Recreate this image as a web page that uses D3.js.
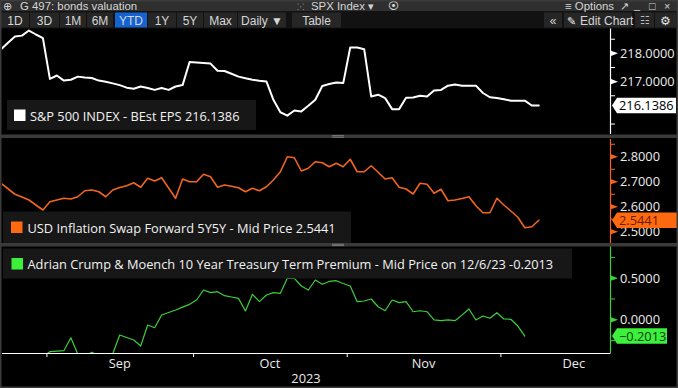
<!DOCTYPE html>
<html><head><meta charset="utf-8">
<script src="https://cdn.jsdelivr.net/npm/d3@7"></script>
<style>
body{margin:0;background:#000;}
svg{display:block;}
text{font-family:"Open Sans","Noto Sans",Arial,sans-serif;}
.tb text{font-family:"Liberation Sans",Arial,sans-serif;}
</style></head>
<body><svg id="c" width="678" height="388"></svg>
<script>
// ---------------- DATA ----------------
const startDate = new Date(2023,7,23), endDate = new Date(2023,11,8);
const spxEps = [218.13,218.36,218.58,218.61,218.79,218.65,218.52,217.08,217.20,217.02,
217.05,217.16,217.13,217.11,217.02,216.98,216.92,216.86,216.77,216.73,
216.81,216.76,216.69,216.76,216.69,216.81,216.86,217.68,217.66,217.64,
217.62,217.37,217.36,217.26,217.16,217.10,217.05,217.01,216.99,216.34,
215.90,215.78,215.96,215.93,216.13,216.34,216.83,216.90,216.95,216.93,
218.19,218.19,218.13,216.46,216.52,216.40,216.01,216.01,216.41,216.42,
216.48,216.46,216.67,216.69,216.84,216.88,216.84,216.84,216.84,216.58,
216.43,216.40,216.36,216.31,216.31,216.31,216.14,216.1386];
const inflSwap = [2.692,2.670,2.648,2.637,2.625,2.605,2.585,2.618,2.625,2.632,
2.629,2.638,2.662,2.665,2.658,2.638,2.665,2.675,2.682,2.694,
2.676,2.712,2.701,2.714,2.673,2.632,2.709,2.698,2.698,2.728,
2.718,2.676,2.685,2.680,2.674,2.658,2.672,2.662,2.678,2.705,
2.738,2.798,2.794,2.741,2.752,2.778,2.774,2.758,2.772,2.758,
2.788,2.738,2.738,2.762,2.736,2.709,2.714,2.676,2.669,2.649,
2.692,2.688,2.652,2.668,2.622,2.625,2.631,2.638,2.602,2.574,
2.574,2.632,2.605,2.581,2.556,2.514,2.518,2.5441];
const termPremium = [-0.52,-0.55,-0.50,-0.53,-0.48,-0.51,-0.45,-0.389,-0.383,-0.377,
-0.221,-0.42,-0.45,-0.395,-0.44,-0.45,-0.415,-0.189,-0.219,-0.249,
-0.321,-0.069,-0.101,0.052,0.082,0.112,0.146,0.180,0.232,0.352,
0.320,0.332,0.284,0.268,0.252,0.100,0.300,0.212,0.292,0.320,
0.312,0.493,0.493,0.400,0.352,0.472,0.421,0.455,0.464,0.430,
0.400,0.212,0.220,0.244,0.151,0.103,0.232,0.200,0.212,0.091,
0.103,0.091,-0.008,-0.017,-0.008,-0.017,0.050,0.124,-0.008,0.040,
0.012,0.079,0.004,0.000,-0.081,-0.2013,null,null];
const monthLabels = ["Sep","Oct","Nov","Dec"];
const yearLabel = "2023";
const epsMajor = [218,217], epsMinor = [218.5,217.5,216.5,215.5];
const swapMajor = [2.8,2.7,2.6,2.5], swapMinor = [2.85,2.75,2.65,2.55];
const tpMajor = [0.5,0.0], tpMinor = [0.75,0.25,-0.25];
const legendTexts = ["S&P 500 INDEX - BEst EPS 216.1386",
 "USD Inflation Swap Forward 5Y5Y - Mid Price 2.5441",
 "Adrian Crump & Moench 10 Year Treasury Term Premium - Mid Price on 12/6/23 -0.2013"];
const lastValues = [216.1386, 2.5441, -0.2013];
const toolbarButtons = ["1D","3D","1M","6M","YTD","1Y","5Y","Max","Daily \u25BC","Table"];

// ---------------- SETUP ----------------
const W=678,H=388, FS=12.8;
const svg=d3.select("#c");
svg.append("rect").attr("width",W).attr("height",H).attr("fill","#000");

const isWk = d => d.getDay()!==0 && d.getDay()!==6;
const axisDays = d3.timeDay.range(startDate, new Date(2024,0,3)).filter(isWk);
const nData = d3.timeDay.range(startDate, d3.timeDay.offset(endDate,1)).filter(isWk).length;
const x = d3.scaleLinear().domain([0,nData-1]).range([1,538.8]);
const monthStarts = [];
axisDays.forEach((d,i)=>{ if(i>0 && d.getMonth()!==axisDays[i-1].getMonth()) monthStarts.push(i-0.5); });

const plotL=2, plotR=610;
const panels = [
 {top:28,bottom:134,domain:[215.13,218.88],data:spxEps,color:"#ffffff",lw:2,major:epsMajor,minor:epsMinor,
  boxFill:"#ffffff",boxText:"#000000",boxR:676,legend:{x:7,y:100,w:249,h:30,sq:[14,109.5],tx:30,ty:121},sqColor:"#ffffff"},
 {top:139,bottom:243,domain:[2.453,2.869],data:inflSwap,color:"#f2651e",lw:1.6,major:swapMajor,minor:swapMinor,
  boxFill:"#ff6a10",boxText:"#6a1e00",boxR:678,legend:{x:3,y:211.5,w:348,h:31.5,sq:[11,221.5],tx:27.5,ty:232.5},sqColor:"#ff6a10"},
 {top:246,bottom:353,domain:[-0.405,0.881],data:termPremium,color:"#3ccf3c",lw:1.2,major:tpMajor,minor:tpMinor,
  boxFill:"#3cf03c",boxText:"#0b3a0b",boxR:667,legend:{x:3,y:248.5,w:569,h:30,sq:[11.5,258],tx:27.5,ty:269},sqColor:"#3cf03c"}
];

const defs = svg.append("defs");
panels.forEach((p,k)=>{
  defs.append("clipPath").attr("id","clip"+k).append("rect")
    .attr("x",plotL).attr("y",p.top).attr("width",plotR-plotL).attr("height",p.bottom-p.top);
  const y = d3.scaleLinear().domain(p.domain).range([p.bottom,p.top]);
  const g = svg.append("g");
  const line = d3.line().defined(d=>d!=null).x((d,i)=>x(i)).y(d=>y(d)).curve(d3.curveLinear);
  g.append("path").attr("clip-path","url(#clip"+k+")").datum(p.data)
    .attr("d",line).attr("fill","none").attr("stroke",p.color).attr("stroke-width",p.lw)
    .attr("stroke-linejoin","round").attr("stroke-linecap","round");
  const L=p.legend;
  g.append("rect").attr("x",L.x).attr("y",L.y).attr("width",L.w).attr("height",L.h).attr("fill","#171717");
  g.append("rect").attr("x",L.sq[0]).attr("y",L.sq[1]).attr("width",11.5).attr("height",11.5).attr("fill",p.sqColor);
  g.append("text").attr("x",L.tx).attr("y",L.ty).attr("fill","#f2f2f2").attr("font-size",FS).text(legendTexts[k]);
  const ax = svg.append("g").attr("transform","translate("+plotR+",0)");
  const minorAxis = d3.axisRight(y).tickValues(p.minor).tickSize(5).tickFormat("");
  ax.append("g").call(minorAxis).call(s=>{s.select(".domain").remove(); s.selectAll("line").attr("stroke",p.color);});
  ax.append("line").attr("x1",0.5).attr("x2",0.5).attr("y1",p.top).attr("y2",p.bottom).attr("stroke",p.color).attr("stroke-width",1.2);
  const majorAxis = d3.axisRight(y).tickValues(p.major).tickSize(0).tickPadding(10).tickFormat(d3.format(".4f"));
  const mg = ax.append("g").call(majorAxis);
  mg.select(".domain").remove();
  mg.selectAll("text").attr("fill","#ececec").attr("font-size",FS).attr("font-family","'Open Sans','Noto Sans',Arial,sans-serif").attr("dy","0.36em");
  mg.selectAll(".tick").append("path").attr("d","M1,-2.6L8,0L1,2.6Z").attr("fill",p.color);
  const cy = y(lastValues[k]);
  const bh=15.5, r=p.boxR-plotR;
  ax.append("path").attr("d",`M2,${cy}L7,${cy-bh/2}L${r},${cy-bh/2}L${r},${cy+bh/2}L7,${cy+bh/2}Z`)
    .attr("fill",p.boxFill);
  ax.append("text").attr("x",9).attr("y",cy).attr("dy","0.36em").attr("fill",p.boxText)
    .attr("font-size",FS).text(d3.format(".4f")(lastValues[k]));
});

// separators
[134.5,243].forEach(yy=>{
  svg.append("rect").attr("x",0).attr("y",yy).attr("width",W).attr("height",3.5).attr("fill","#3a3a3a");
  svg.append("rect").attr("x",332).attr("y",yy+0.8).attr("width",12).attr("height",0.8).attr("fill","#8a8a8a");
  svg.append("rect").attr("x",332).attr("y",yy+2.3).attr("width",12).attr("height",0.8).attr("fill","#8a8a8a");
});

// x axis
const xa = svg.append("g").attr("transform","translate(0,353)");
xa.call(d3.axisBottom(x).tickValues(monthStarts.filter(v=>x(v)<plotR)).tickSize(4).tickFormat("").tickSizeOuter(0))
  .call(s=>{s.select(".domain").remove(); s.selectAll("line").attr("stroke","#ffffff");});
xa.append("line").attr("x1",plotL).attr("x2",plotR+0.5).attr("y1",0.5).attr("y2",0.5).attr("stroke","#ffffff").attr("stroke-width",1.2);
monthLabels.forEach((m,i)=>{
  const cx=(x(monthStarts[i])+x(monthStarts[i+1]))/2;
  xa.append("text").attr("x",cx).attr("y",14.5).attr("text-anchor","middle").attr("fill","#ececec").attr("font-size",FS).text(m);
});
xa.append("text").attr("x",(plotL+plotR)/2).attr("y",29.5).attr("text-anchor","middle").attr("fill","#ececec").attr("font-size",FS).text(yearLabel);

// ---------------- TOOLBAR ----------------
const tb = svg.append("g").attr("class","tb");
tb.append("rect").attr("x",0).attr("y",0).attr("width",W).attr("height",11.5).attr("fill","#2f2f2f");
tb.append("rect").attr("x",0).attr("y",11.5).attr("width",W).attr("height",17).attr("fill","#121212");
const tcol="#d6d6d6", TF1=10.8, TF=12;
tb.append("text").attr("x",3).attr("y",10.2).attr("fill",tcol).attr("font-size",TF1).text("\u2295");
tb.append("text").attr("x",20).attr("y",10.2).attr("fill",tcol).attr("font-size",TF1+0.6).text("G 497: bonds valuation");
tb.append("text").attr("x",297).attr("y",10.2).attr("fill","#9a9a9a").attr("font-size",9).text("\u2059");
tb.append("text").attr("x",311).attr("y",10.2).attr("fill",tcol).attr("font-size",TF1+0.6).text("SPX Index \u25BE");
tb.append("text").attr("x",388).attr("y",10.2).attr("fill",tcol).attr("font-size",TF1).text("\u29BF");
tb.append("text").attr("x",565).attr("y",10.2).attr("fill",tcol).attr("font-size",TF1+0.6).text("\u2261 Options");
tb.append("text").attr("x",620).attr("y",10.2).attr("fill",tcol).attr("font-size",TF1).text("\u2197");
tb.append("text").attr("x",634).attr("y",9).attr("fill",tcol).attr("font-size",TF1).text("_");
tb.append("text").attr("x",649).attr("y",10.2).attr("fill",tcol).attr("font-size",TF1).text("\u25A1");
tb.append("text").attr("x",664).attr("y",10.2).attr("fill",tcol).attr("font-size",TF1).text("\u00D7");
const btnX = [[1,29],[30,59],[60,86],[87,113],[115,147],[148,176],[177,203],[204,237],[238,286],[292,341]];
toolbarButtons.forEach((b,i)=>{
  const [a,e]=btnX[i];
  tb.append("rect").attr("x",a).attr("y",12.5).attr("width",e-a).attr("height",15).attr("fill",b==="YTD"?"#1463d0":"#262626");
  tb.append("text").attr("x",(a+e)/2).attr("y",24.5).attr("text-anchor","middle").attr("fill",tcol).attr("font-size",TF).text(b);
});
[[544,562],[564,632],[635,654],[655,676]].forEach(([a,e])=>{
  tb.append("rect").attr("x",a).attr("y",12.5).attr("width",e-a).attr("height",15).attr("fill","#262626");
});
tb.append("text").attr("x",553).attr("y",24.5).attr("text-anchor","middle").attr("fill",tcol).attr("font-size",TF).text("\u00AB");
tb.append("text").attr("x",567).attr("y",24.5).attr("fill","#e6e6e6").attr("font-size",11).text("\u270E");
tb.append("text").attr("x",580).attr("y",24.5).attr("fill",tcol).attr("font-size",TF).text("Edit Chart");
tb.append("text").attr("x",644.5).attr("y",24).attr("text-anchor","middle").attr("fill","#bdbdbd").attr("font-size",11).text("\u2637");
tb.append("text").attr("x",665.5).attr("y",24.5).attr("text-anchor","middle").attr("fill","#e6e6e6").attr("font-size",12).text("\u2699");

svg.append("rect").attr("x",0.75).attr("y",0.75).attr("width",W-1.5).attr("height",H-1.5)
  .attr("fill","none").attr("stroke","#3c3c3c").attr("stroke-width",1.5);
</script></body></html>
